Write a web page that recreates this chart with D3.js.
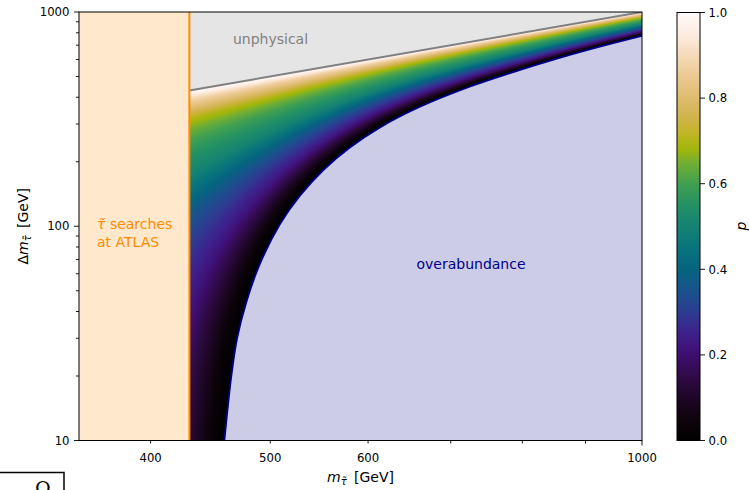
<!DOCTYPE html>
<html>
<head>
<meta charset="utf-8">
<script src="https://cdn.jsdelivr.net/npm/d3@7"></script>
<style>
body { margin: 0; background: #fff; }
svg text { font-family: "DejaVu Sans", sans-serif; }
</style>
</head>
<body>
<div id="chart"></div>
<script>
//Tick values
var xTickLabels = [400, 500, 600, 1000];
var xMinorTicks = [400, 500, 600, 700, 800, 900];
var xMajorTicks = [1000];
var yMajorTicks = [10, 100, 1000];
var yMinorTicks = [20, 30, 40, 50, 60, 70, 80, 90, 200, 300, 400, 500, 600, 700, 800, 900];
var cbarTicks = [0, 0.2, 0.4, 0.6, 0.8, 1.0];

//ATLAS stau limit [GeV]
var atlasLimit = 430;

//overabundance edge (navy curve)
var edgeMass  = [459, 465, 470, 478, 490, 509, 528, 552, 580, 614, 661, 726, 783, 860, 926, 1000];
var edgeDelta = [10, 20, 30, 44, 66, 102, 138, 183, 233, 290, 361, 449, 520, 614, 691, 774];
//m_chi of the edge at the ATLAS line (edge lies below the plotted range there)
var edgeChiAtLimit = 470;

//p across the allowed band, as function of m_chi / m_chi(edge)
var bandFrac = [0, 0.04, 0.09, 0.16, 0.24, 0.38, 0.55, 0.71, 0.83, 0.90, 0.96, 1];
var bandP    = [1, 0.96, 0.88, 0.80, 0.70, 0.60, 0.50, 0.33, 0.22, 0.12, 0.03, 0];

//colour map
var cmapPos = [0, 0.05, 0.1, 0.15, 0.2, 0.25, 0.3, 0.35, 0.4, 0.45, 0.5, 0.55, 0.6, 0.65, 0.68, 0.72, 0.76, 0.8, 0.85, 0.9, 0.95, 1];
var cmapColors = ["#000000", "#0e040c", "#1e0626", "#300a48", "#3e0e70", "#3e208c", "#2d3c91", "#19528c",
    "#056480", "#08747c", "#148273", "#239164", "#41a050", "#73af32", "#a0b60a", "#c3b428",
    "#d2b450", "#debc6e", "#ebc891", "#f6dab9", "#fcece1", "#fffafa"];

var width = 749,
    height = 490,
    pL = 79, pR = 642, pT = 12, pB = 440.5;

var svg = d3.select("#chart").append("svg")
    .attr("width", width)
    .attr("height", height);

var x = d3.scaleLog().domain([350, 1000]).range([pL, pR]);
var y = d3.scaleLog().domain([10, 1000]).range([pB, pT]);

var edgeChi = d3.scaleLinear()
    .domain([atlasLimit].concat(edgeMass))
    .range([edgeChiAtLimit].concat(edgeMass.map(function (m, i) { return m - edgeDelta[i]; })))
    .clamp(true);
var band = d3.scaleLinear().domain(bandFrac).range(bandP).clamp(true);
var cmap = d3.scaleLinear().domain(cmapPos).range(cmapColors).interpolate(d3.interpolateRgb);

var lut = d3.range(256).map(function (i) { return d3.rgb(cmap(i / 255)); });

svg.append("clipPath").attr("id", "plotclip")
    .append("rect")
    .attr("x", pL).attr("y", pT)
    .attr("width", pR - pL).attr("height", pB - pT);

var plot = svg.append("g").attr("clip-path", "url(#plotclip)");

//heat map of p
var cw = Math.round(pR - pL), ch = Math.round(pB - pT);
var canvas = document.createElement("canvas");
canvas.width = cw;
canvas.height = ch;
var ctx = canvas.getContext("2d");
var img = ctx.createImageData(cw, ch);
for (var j = 0; j < ch; j++) {
    var dm = y.invert(pT + j + 0.5);
    for (var i = 0; i < cw; i++) {
        var m = x.invert(pL + i + 0.5);
        if (m < atlasLimit || dm > m) continue;
        var s = (m - dm) / edgeChi(m);
        var p = s >= 1 ? 0 : band(s);
        var c = lut[Math.round(p * 255)];
        var k = (j * cw + i) * 4;
        img.data[k] = c.r; img.data[k + 1] = c.g; img.data[k + 2] = c.b; img.data[k + 3] = 255;
    }
}
ctx.putImageData(img, 0, 0);
plot.append("image")
    .attr("x", pL).attr("y", pT)
    .attr("width", cw).attr("height", ch)
    .attr("preserveAspectRatio", "none")
    .attr("href", canvas.toDataURL());

//unphysical region
var unphys = [[atlasLimit, atlasLimit], [1000, 1000], [atlasLimit, 1000]];
plot.append("path")
    .attr("d", d3.line().x(function (d) { return x(d[0]); }).y(function (d) { return y(d[1]); })(unphys) + "Z")
    .attr("fill", "#e5e5e5");

//overabundance region
var edge = edgeMass.map(function (m, i) { return {m: m, dm: edgeDelta[i]}; });
var edgeCurve = d3.curveCatmullRom.alpha(0.5);
plot.append("path")
    .datum(edge)
    .attr("d", d3.area()
        .x(function (d) { return x(d.m); })
        .y0(pB + 2)
        .y1(function (d) { return y(d.dm); })
        .curve(edgeCurve))
    .attr("fill", "#ccccE6");

//ATLAS region
plot.append("rect")
    .attr("x", pL).attr("y", pT)
    .attr("width", x(atlasLimit) - pL).attr("height", pB - pT)
    .attr("fill", "#ffe8cc");

plot.append("line")
    .attr("x1", x(atlasLimit)).attr("x2", x(1000))
    .attr("y1", y(atlasLimit)).attr("y2", y(1000))
    .attr("stroke", "#808080").attr("stroke-width", 2);

plot.append("path")
    .datum(edge)
    .attr("d", d3.line()
        .x(function (d) { return x(d.m); })
        .y(function (d) { return y(d.dm); })
        .curve(edgeCurve))
    .attr("fill", "none")
    .attr("stroke", "#00008b").attr("stroke-width", 1.8);

plot.append("line")
    .attr("x1", x(atlasLimit)).attr("x2", x(atlasLimit))
    .attr("y1", pT).attr("y2", pB)
    .attr("stroke", "#ff8c00").attr("stroke-width", 2);

//region labels
svg.append("text").attr("x", 270.5).attr("y", 43.5)
    .attr("text-anchor", "middle").attr("font-size", "14px").attr("fill", "#808080")
    .text("unphysical");
svg.append("text").attr("x", 471).attr("y", 268.5)
    .attr("text-anchor", "middle").attr("font-size", "14px").attr("fill", "#00008b")
    .text("overabundance");
var atl = svg.append("text").attr("x", 97).attr("y", 228.5)
    .attr("font-size", "14px").attr("fill", "#ff8c00");
atl.append("tspan").attr("font-style", "italic").text("\u03c4\u0303");
atl.append("tspan").text(" searches");
svg.append("text").attr("x", 97).attr("y", 246.5)
    .attr("font-size", "14px").attr("fill", "#ff8c00")
    .text("at ATLAS");

//frame
svg.append("rect")
    .attr("x", pL).attr("y", pT)
    .attr("width", pR - pL).attr("height", pB - pT)
    .attr("fill", "none").attr("stroke", "#000").attr("stroke-width", 1);

//x ticks
var axes = svg.append("g").attr("stroke", "#000").attr("stroke-width", 0.9);
axes.selectAll(".xmin").data(xMinorTicks).enter().append("line")
    .attr("x1", x).attr("x2", x).attr("y1", pB).attr("y2", pB + 3);
axes.selectAll(".xmaj").data(xMajorTicks).enter().append("line")
    .attr("x1", x).attr("x2", x).attr("y1", pB).attr("y2", pB + 5);
svg.selectAll(".xlab").data(xTickLabels).enter().append("text")
    .attr("x", x).attr("y", 461.5)
    .attr("text-anchor", "middle").attr("font-size", "11.7px")
    .text(function (d) { return d; });

//y ticks
axes.selectAll(".ymin").data(yMinorTicks).enter().append("line")
    .attr("x1", pL - 3).attr("x2", pL).attr("y1", y).attr("y2", y);
axes.selectAll(".ymaj").data(yMajorTicks).enter().append("line")
    .attr("x1", pL - 5).attr("x2", pL).attr("y1", y).attr("y2", y);
svg.selectAll(".ylab").data(yMajorTicks).enter().append("text")
    .attr("x", pL - 9.5).attr("y", y).attr("dy", "0.36em")
    .attr("text-anchor", "end").attr("font-size", "11.7px")
    .text(function (d) { return d; });

//axis titles
var xt = svg.append("text").attr("x", (pL + pR) / 2).attr("y", 482)
    .attr("text-anchor", "middle").attr("font-size", "14px");
xt.append("tspan").attr("font-style", "italic").text("m");
xt.append("tspan").attr("font-style", "italic").attr("font-size", "10px").attr("dy", 3).text("\u03c4\u0303");
xt.append("tspan").attr("dy", -3).text("\u2009 [GeV]");

var yt = svg.append("text")
    .attr("transform", "translate(28," + (pT + pB) / 2 + ") rotate(-90)")
    .attr("text-anchor", "middle").attr("font-size", "14px");
yt.append("tspan").text("\u0394");
yt.append("tspan").attr("font-style", "italic").text("m");
yt.append("tspan").attr("font-style", "italic").attr("font-size", "10px").attr("dy", 3).text("\u03c4\u0303");
yt.append("tspan").attr("dy", -3).text("\u2009 [GeV]");

//colour bar
var defs = svg.append("defs");
var grad = defs.append("linearGradient").attr("id", "cmapgrad")
    .attr("x1", 0).attr("y1", 1).attr("x2", 0).attr("y2", 0);
grad.selectAll("stop").data(cmapPos).enter().append("stop")
    .attr("offset", function (d) { return d; })
    .attr("stop-color", function (d, i) { return cmapColors[i]; });

var cb = d3.scaleLinear().domain([0, 1]).range([440.5, 12.5]);
svg.append("rect")
    .attr("x", 677).attr("y", cb(1))
    .attr("width", 23).attr("height", cb(0) - cb(1))
    .attr("fill", "url(#cmapgrad)")
    .attr("stroke", "#000").attr("stroke-width", 1);
axes.selectAll(".cbt").data(cbarTicks).enter().append("line")
    .attr("x1", 700).attr("x2", 705).attr("y1", cb).attr("y2", cb);
svg.selectAll(".cbl").data(cbarTicks).enter().append("text")
    .attr("x", 708.5).attr("y", cb).attr("dy", "0.36em")
    .attr("font-size", "11.7px")
    .text(function (d) { return d.toFixed(1); });
svg.append("text")
    .attr("transform", "translate(746,226) rotate(-90)")
    .attr("text-anchor", "middle").attr("font-size", "14px").attr("font-style", "italic")
    .text("p");

//cut-off box at the bottom left
svg.append("rect")
    .attr("x", -2).attr("y", 472.5).attr("width", 66).attr("height", 30)
    .attr("fill", "none").attr("stroke", "#000").attr("stroke-width", 1.5);
svg.append("text").attr("x", 43).attr("y", 495)
    .attr("text-anchor", "middle").attr("font-size", "19px")
    .style("font-family", "'DejaVu Serif', serif")
    .text("\u03a9");
</script>
</body>
</html>
